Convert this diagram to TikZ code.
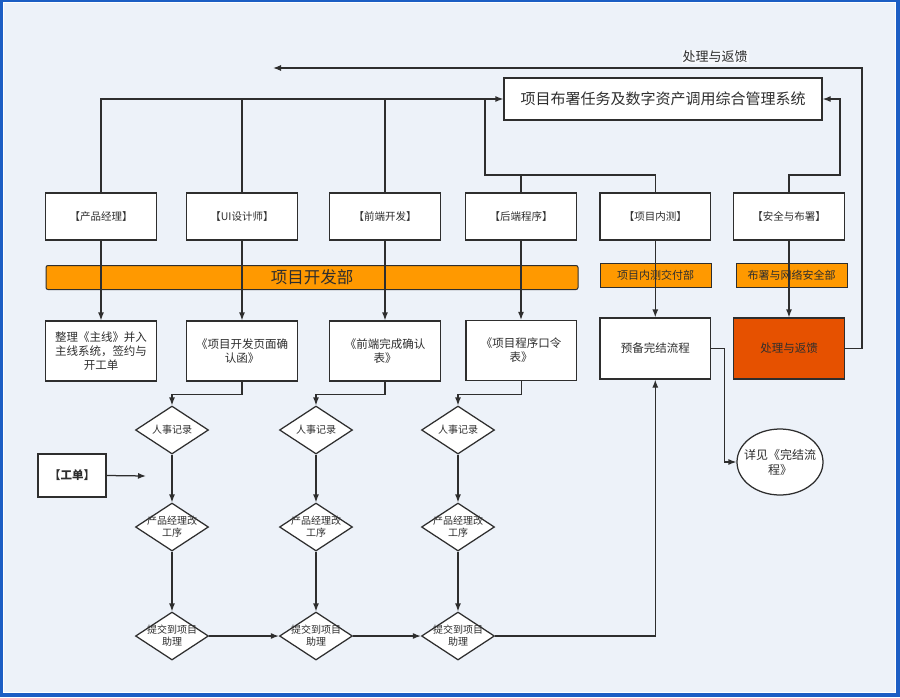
\documentclass[tikz,border=0pt]{standalone}
\usepackage{fontspec}
\setmainfont{Noto Sans CJK SC}
\usetikzlibrary{shapes.geometric,arrows.meta}
\definecolor{bgc}{HTML}{EDF2F9}
\definecolor{framec}{HTML}{1C5EC4}
\definecolor{ink}{HTML}{2E2E2E}
\definecolor{orangec}{HTML}{FF9900}
\definecolor{redc}{HTML}{E65100}
\begin{document}
\begin{tikzpicture}[x=1pt,y=-1pt,
  line/.style={draw=ink, line width=1.25pt},
  arr/.style={line, -{Latex[length=8pt,width=6pt]}},
  box/.style={draw=ink, line width=1.25pt, fill=white, inner sep=0pt, align=center, text=ink},
  topbox/.style={box, minimum width=110.6pt, minimum height=47pt, font=\fontsize{10.5}{12}\selectfont},
  midbox/.style={box, minimum width=110.6pt, minimum height=60pt, font=\fontsize{11.5}{14}\selectfont},
  bar/.style={draw=ink, line width=1pt, fill=orangec, inner sep=0pt, text=ink},
  dia/.style={diamond, draw=ink, line width=1.25pt, fill=white, inner sep=0pt, minimum width=73pt, minimum height=48pt},
  dlab/.style={align=center, text=ink, font=\fontsize{10}{12}\selectfont, inner sep=0pt}
]
% background and frame
\fill[framec] (0,0) rectangle (900,697);
\fill[white] (3,2) rectangle (896,693);
\fill[bgc] (4,3) rectangle (895,692);
\useasboundingbox (0,0) rectangle (900,697);

% system box
\node[box, minimum width=318pt, minimum height=42pt, font=\fontsize{15}{18}\selectfont] (sys) at (663,99) {项目布署任务及数字资产调用综合管理系统};

% top row
\node[topbox] (pm)  at (101,216.5) {【产品经理】};
\node[topbox] (ui)  at (242,216.5) {【UI设计师】};
\node[topbox] (fe)  at (385,216.5) {【前端开发】};
\node[topbox] (be)  at (521,216.5) {【后端程序】};
\node[topbox] (qa)  at (655.3,216.5) {【项目内测】};
\node[topbox] (sec) at (789,216.5) {【安全与布署】};

% bars
\node[bar, rounded corners=2pt, minimum width=532pt, minimum height=24pt, font=\fontsize{16.5}{18}\selectfont] (dev) at (312,277.5) {项目开发部};
\node[bar, minimum width=111pt, minimum height=24pt, font=\fontsize{11}{13}\selectfont] (qadep) at (655.5,275) {项目内测交付部};
\node[bar, minimum width=111pt, minimum height=24pt, font=\fontsize{11}{13}\selectfont] (secdep) at (791.5,275) {布署与网络安全部};

% second row
\node[midbox] (doc1) at (101,351) {整理《主线》并入\\主线系统，签约与\\开工单};
\node[midbox] (doc2) at (242,351) {《项目开发页面确\\认函》};
\node[midbox] (doc3) at (385,351) {《前端完成确认\\表》};
\node[midbox] (doc4) at (521.2,350.5) {《项目程序口令\\表》};
\node[midbox, minimum height=61pt] (prep) at (655.3,348.5) {预备完结流程};
\node[midbox, minimum height=61pt, fill=redc] (proc) at (789,348.5) {处理与返馈};

% ellipse
\node[ellipse, draw=ink, line width=1.25pt, fill=white, minimum width=86pt, minimum height=66pt, inner sep=0pt,
  label={[align=center, text=ink, inner sep=0pt, font=\fontsize{12}{15}\selectfont]center:详见《完结流\\程》}] (ell) at (780,462) {};

% work order
\node[box, minimum width=68pt, minimum height=43pt, font=\fontsize{11.5}{13}\selectfont\bfseries] (wo) at (72,475.5) {【工单】};
\coordinate (woend) at (146,476);

% diamonds
\node[dia, label={[dlab]center:人事记录}] (h1) at (172,430) {};
\node[dia, label={[dlab]center:人事记录}] (h2) at (316,430) {};
\node[dia, label={[dlab]center:人事记录}] (h3) at (458,430) {};
\node[dia, label={[dlab]center:产品经理改\\工序}] (p1) at (172,527) {};
\node[dia, label={[dlab]center:产品经理改\\工序}] (p2) at (316,527) {};
\node[dia, label={[dlab]center:产品经理改\\工序}] (p3) at (458,527) {};
\node[dia, label={[dlab]center:提交到项目\\助理}] (s1) at (172,636) {};
\node[dia, label={[dlab]center:提交到项目\\助理}] (s2) at (316,636) {};
\node[dia, label={[dlab]center:提交到项目\\助理}] (s3) at (458,636) {};

% feedback label
\node[fill=bgc!50!white, inner sep=1pt, text=ink, font=\fontsize{13}{15}\selectfont] (fblab) at (715,57) {处理与返馈};

% coordinates
\coordinate (j1) at (485,99);
\coordinate (j2) at (485,175);
\coordinate (r1) at (840,175);
\coordinate (fb1) at (862,68);
\coordinate (fbend) at (273,68);

% top connectors
\draw[arr] (pm.north) |- (sys.west);
\draw[line] (ui.north) -- (ui.north |- sys.west);
\draw[line] (fe.north) -- (fe.north |- sys.west);
\draw[line] (j1) -- (j2) -| (be.north);
\draw[line] (j2) -| (qa.north);
\draw[arr] (sec.north) |- (r1) |- (sys.east);
\draw[arr] (proc.east) -| (fb1) -- (fbend);

% vertical connectors through bars
\draw[arr] (pm.south) -- (doc1.north);
\draw[arr] (ui.south) -- (doc2.north);
\draw[arr] (fe.south) -- (doc3.north);
\draw[arr] (be.south) -- (doc4.north -| be.south);
\draw[arr] (qa.south) -- (prep.north -| qa.south);
\draw[arr] (sec.south) -- (proc.north);

% docs to diamonds
\draw[arr] (doc2.south) -- ++(0,13) -| (h1.north);
\draw[arr] (doc3.south) -- ++(0,13) -| (h2.north);
\draw[arr] (doc4.south) -- ++(0,13) -| (h3.north);

\draw[arr] (h1.south) -- (p1.north);
\draw[arr] (h2.south) -- (p2.north);
\draw[arr] (h3.south) -- (p3.north);
\draw[arr] (p1.south) -- (s1.north);
\draw[arr] (p2.south) -- (s2.north);
\draw[arr] (p3.south) -- (s3.north);
\draw[arr] (s1.east) -- (s2.west);
\draw[arr] (s2.east) -- (s3.west);
\draw[arr] (s3.east) -| (prep.south);

\draw[arr] (wo.east) -- (woend);
\draw[arr] (prep.east) -- ++(13,0) |- (ell.west);
\end{tikzpicture}
\end{document}
